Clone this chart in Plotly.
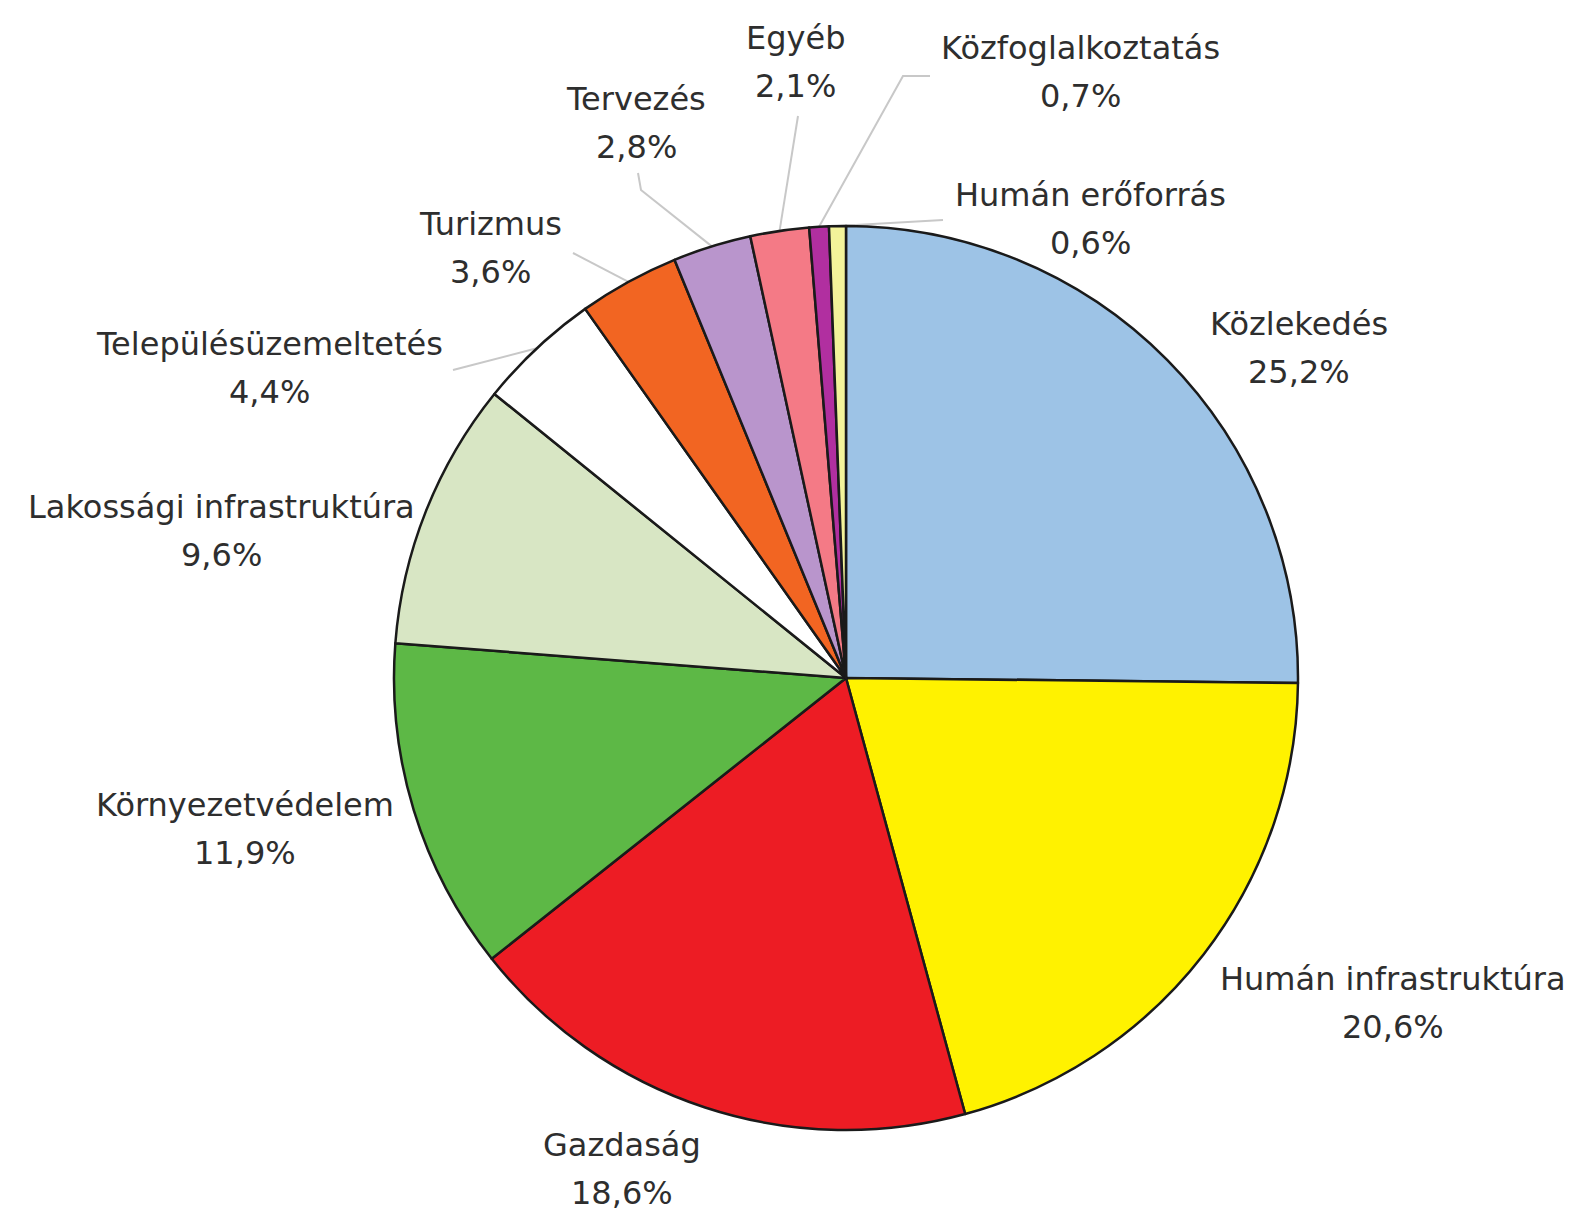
import numpy as np
import plotly.graph_objects as go

# ---- data ----
categories = ["Közlekedés", "Humán infrastruktúra", "Gazdaság", "Környezetvédelem",
              "Lakossági infrastruktúra", "Településüzemeltetés", "Turizmus",
              "Tervezés", "Egyéb", "Közfoglalkoztatás", "Humán erőforrás"]
shares = [25.2, 20.6, 18.6, 11.9, 9.6, 4.4, 3.6, 2.8, 2.1, 0.7, 0.6]
colors = ["#9DC3E6", "#FFF200", "#ED1C24", "#5DB846", "#D8E6C4", "#FFFFFF",
          "#F26522", "#B995CC", "#F47A86", "#B12FA0", "#F3F39A"]

# ---- layout geometry (pixels) ----
W, H = 1576, 1214
CX, CY, R = 838, 670, 452
FONT = "DejaVu Sans"
FS = 32
TXT = "#2e2e2e"

# label block centres (pixels)
label_pos = {
    "Közlekedés": (1291, 340),
    "Humán infrastruktúra": (1385, 995),
    "Gazdaság": (614, 1161),
    "Környezetvédelem": (237, 821),
    "Lakossági infrastruktúra": (213, 523),
    "Településüzemeltetés": (261, 360),
    "Turizmus": (482, 240),
    "Tervezés": (628, 115),
    "Egyéb": (787, 54),
    "Közfoglalkoztatás": (1072, 64),
    "Humán erőforrás": (1082, 211),
}
# leader line waypoints after the pie edge (pixels)
leaders = {
    "Településüzemeltetés": [(445, 362)],
    "Turizmus": [(565, 245)],
    "Tervezés": [(633, 182), (630, 165)],
    "Egyéb": [(790, 108)],
    "Közfoglalkoztatás": [(895, 68), (922, 68)],
    "Humán erőforrás": [(935, 212)],
}


def px(x):
    return x / W


def py(y):
    return 1 - y / H


fig = go.Figure(go.Pie(
    labels=categories,
    values=shares,
    sort=False,
    direction="clockwise",
    rotation=0,
    marker=dict(colors=colors, line=dict(color="#1a1a1a", width=2.5)),
    textinfo="none",
    hoverinfo="label+percent",
    showlegend=False,
    domain=dict(x=[px(CX - R), px(CX + R)], y=[py(CY + R), py(CY - R)]),
))

annotations = []
for cat, val in zip(categories, shares):
    lx, ly = label_pos[cat]
    pct = f"{val:.1f}".replace(".", ",") + "%"
    for txt, dy in ((cat, -24), (pct, 24)):
        annotations.append(dict(
            x=px(lx), y=py(ly + dy), xref="paper", yref="paper",
            text=txt, showarrow=False, xanchor="center", yanchor="middle",
            font=dict(family=FONT, size=FS, color=TXT),
        ))

vals = np.array(shares, dtype=float)
frac = vals / vals.sum()
cum = np.cumsum(frac) - frac / 2
shapes = []
for cat, mid in zip(categories, cum):
    if cat not in leaders:
        continue
    th = 2 * np.pi * mid
    ex = CX + R * np.sin(th)
    ey = CY - R * np.cos(th)
    pts = [(ex, ey)] + leaders[cat]
    path = "M " + " L ".join(f"{px(x):.5f},{py(y):.5f}" for x, y in pts)
    shapes.append(dict(type="path", path=path, xref="paper", yref="paper",
                       line=dict(color="#c8c8c8", width=2), layer="below"))

fig.update_layout(
    width=W, height=H,
    margin=dict(l=0, r=0, t=0, b=0),
    paper_bgcolor="white", plot_bgcolor="white",
    annotations=annotations,
    shapes=shapes,
)

fig.write_html("out.html")
